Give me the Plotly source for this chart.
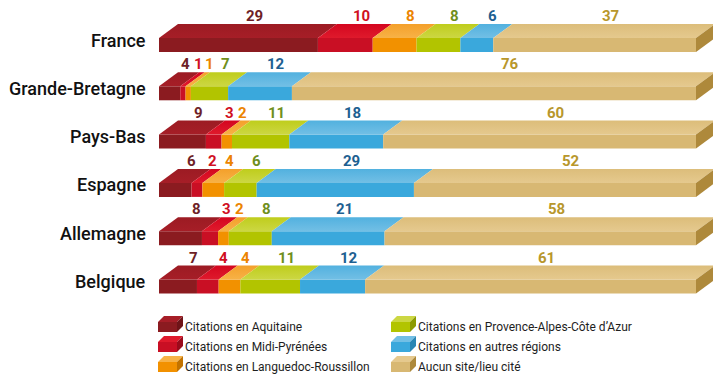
import plotly.graph_objects as go

# ---- data -------------------------------------------------------------
countries = ["France", "Grande-Bretagne", "Pays-Bas", "Espagne", "Allemagne", "Belgique"]
series_names = [
    "Citations en Aquitaine",
    "Citations en Midi-Pyrénées",
    "Citations en Languedoc-Roussillon",
    "Citations en Provence-Alpes-Côte d’Azur",
    "Citations en autres régions",
    "Aucun site/lieu cité",
]
aquitaine = [29, 4, 9, 6, 8, 7]
midi_pyrenees = [10, 1, 3, 2, 3, 4]
languedoc = [8, 1, 2, 4, 2, 4]
paca = [8, 7, 11, 6, 8, 11]
autres_regions = [6, 12, 18, 29, 21, 12]
aucun_site = [37, 76, 60, 52, 58, 61]
series_values = [aquitaine, midi_pyrenees, languedoc, paca, autres_regions, aucun_site]

# ---- styles -----------------------------------------------------------
front_colors = ["#8b1b20", "#c90f24", "#f29100", "#b2c400", "#3aa8dc", "#d8b873"]
top_colors = [("#9c1b23", "#a61e27"), ("#d4061f", "#df1a2c"), ("#f4a02a", "#f7b247"),
              ("#bfcd1c", "#ccd743"), ("#52b1df", "#72bfe5"), ("#dcbd7a", "#e5c98e")]
side_colors = ["#6e1418", "#9a0b1b", "#c27300", "#8c9a00", "#2a86b3", "#ae893b"]
label_colors = ["#6e1f27", "#d0101f", "#ec8400", "#6f8f1c", "#1d6091", "#b8972c"]

W, H = 713, 374
X0, XW = 159, 537          # pixel of 0 % and pixel width of 100 %
ROW0, ROWH = 45, 48.3      # front-face centre of first row, row pitch (px)
FRONT_H = 14               # front face height (px)
DX, DY = 19, 14            # depth of the 3D extrusion (px)
FONT = "Roboto, 'Open Sans', sans-serif"


def ux(px):
    return px / XW * 100.0


def uy(px):
    return px / ROWH


fig = go.Figure()


def poly(xs, ys, color, grad=None):
    kw = dict(fillcolor=color)
    if grad is not None:
        kw = dict(fillgradient=dict(type="vertical", colorscale=[[0, grad[1]], [1, grad[0]]]))
    fig.add_trace(go.Scatter(
        x=list(xs) + [xs[0]], y=list(ys) + [ys[0]], mode="lines", fill="toself",
        line=dict(width=0, color=color), hoverinfo="skip", showlegend=False, **kw))


annotations = []
for r, country in enumerate(countries):
    vals = [s[r] for s in series_values]
    total = sum(vals)
    yc = r
    yf_top = yc - uy(FRONT_H / 2)
    yf_bot = yc + uy(FRONT_H / 2)
    yb_top = yf_top - uy(DY)
    dx = ux(DX)
    start = 0.0
    label_px = []
    for i, v in enumerate(vals):
        pct = v / total * 100.0
        x0, x1 = start, start + pct
        # front face
        poly([x0, x1, x1, x0], [yf_top, yf_top, yf_bot, yf_bot], front_colors[i])
        # top face
        poly([x0, x1, x1 + dx, x0 + dx], [yf_top, yf_top, yb_top, yb_top],
             top_colors[i][0], grad=top_colors[i])
        if i == len(vals) - 1:
            poly([x1, x1 + dx, x1 + dx, x1], [yf_top, yb_top, yb_top + uy(FRONT_H), yf_bot],
                 side_colors[i])
        # value label position (px), pushed right if too close to the previous one
        cx = X0 + (x0 + x1) / 2 / 100 * XW + 16
        if label_px:
            min_gap = 11 if (v < 10 and vals[i - 1] < 10) else 16
            cx = max(cx, label_px[-1] + min_gap)
        label_px.append(cx)
        annotations.append(dict(
            x=(cx - X0) / XW * 100, y=yc - uy(29), xref="x", yref="y",
            text=f"<b>{v}</b>", showarrow=False, xanchor="center", yanchor="middle",
            font=dict(family=FONT, size=15, color=label_colors[i])))
        start = x1
    annotations.append(dict(
        x=148 / W, y=yc - uy(5), xref="paper", yref="y", text=country, showarrow=False,
        xanchor="right", yanchor="middle",
        font=dict(family=FONT, size=18, color="#111111", weight=500)))

# ---- legend (drawn as small 3D boxes) ----------------------------------
shapes = []
leg_cols = [158, 391]
leg_rows = [326, 346, 366]
for i, name in enumerate(series_names):
    lx = leg_cols[i // 3]
    ly = leg_rows[i % 3]
    fx0, fx1 = lx, lx + 19
    fy0, fy1 = ly - 4, ly + 6
    d = 6

    def P(pts):
        return "M " + " L ".join(f"{x / W:.5f},{1 - y / H:.5f}" for x, y in pts) + " Z"

    shapes.append(dict(type="path", xref="paper", yref="paper", line=dict(width=0),
                       fillcolor=front_colors[i], path=P([(fx0, fy0), (fx1, fy0), (fx1, fy1), (fx0, fy1)])))
    shapes.append(dict(type="path", xref="paper", yref="paper", line=dict(width=0),
                       fillcolor=top_colors[i][1],
                       path=P([(fx0, fy0), (fx1, fy0), (fx1 + d, fy0 - d), (fx0 + d, fy0 - d)])))
    shapes.append(dict(type="path", xref="paper", yref="paper", line=dict(width=0),
                       fillcolor=side_colors[i],
                       path=P([(fx1, fy0), (fx1 + d, fy0 - d), (fx1 + d, fy1 - d), (fx1, fy1)])))
    annotations.append(dict(
        x=(lx + 25) / W, y=1 - (ly + 0.5) / H, xref="paper", yref="paper", text=name,
        showarrow=False, xanchor="left", yanchor="middle",
        font=dict(family=FONT, size=12, color="#1e1e1e")))

fig.update_layout(
    width=W, height=H, margin=dict(l=0, r=0, t=0, b=0),
    paper_bgcolor="white", plot_bgcolor="white",
    xaxis=dict(range=[-X0 / XW * 100, (W - X0) / XW * 100], visible=False, fixedrange=True),
    yaxis=dict(range=[(H - ROW0) / ROWH, -ROW0 / ROWH], visible=False, fixedrange=True),
    annotations=annotations, shapes=shapes, showlegend=False,
)

fig.write_html("out.html")
